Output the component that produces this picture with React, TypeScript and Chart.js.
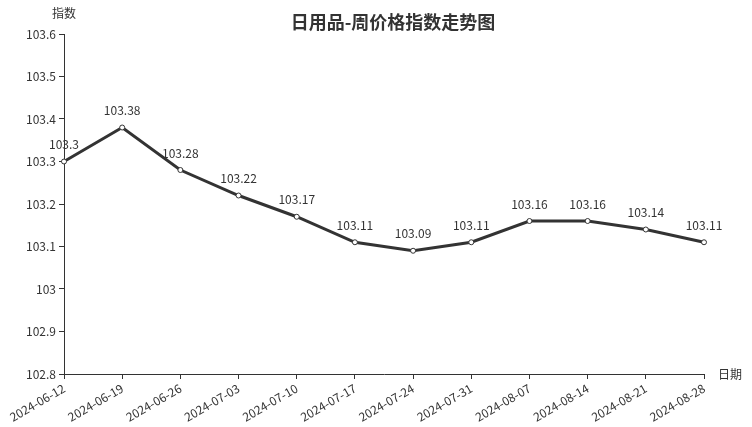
import React, { useEffect, useRef } from "react";
import { Chart, registerables } from "chart.js";

Chart.register(...registerables);

const categories = ["2024-06-12","2024-06-19","2024-06-26","2024-07-03","2024-07-10","2024-07-17","2024-07-24","2024-07-31","2024-08-07","2024-08-14","2024-08-21","2024-08-28"];
const values = [103.3, 103.38, 103.28, 103.22, 103.17, 103.11, 103.09, 103.11, 103.16, 103.16, 103.14, 103.11];
const titleText = "日用品-周价格指数走势图";
const yAxisName = "指数";
const xAxisName = "日期";

const FONT = "'Noto Sans CJK SC', 'Noto Sans', sans-serif";

const overlay = {
  id: "overlay",
  afterDatasetsDraw(chart: any) {
    const ctx = chart.ctx;
    const area = chart.chartArea;
    ctx.save();
    ctx.fillStyle = "#333";
    ctx.font = `bold 18px ${FONT}`;
    ctx.textAlign = "center";
    ctx.textBaseline = "middle";
    ctx.fillText(titleText, 393, 22);
    ctx.font = `12px ${FONT}`;
    ctx.fillText(yAxisName, area.left, 13);
    ctx.textAlign = "left";
    ctx.fillText(xAxisName, area.right + 14, area.bottom);
    const meta = chart.getDatasetMeta(0);
    ctx.textAlign = "center";
    ctx.textBaseline = "bottom";
    meta.data.forEach((pt: any, i: number) => {
      ctx.fillText(String(values[i]), pt.x, pt.y - 11);
    });
    ctx.restore();
  },
};

export default function App() {
  const ref = useRef<HTMLCanvasElement>(null);
  useEffect(() => {
    const chart = new Chart(ref.current!, {
      type: "line",
      data: {
        labels: categories,
        datasets: [
          {
            data: values,
            borderColor: "#333",
            borderWidth: 3,
            pointRadius: 2.5,
            pointBackgroundColor: "#fff",
            pointBorderColor: "#333",
            pointBorderWidth: 1,
            tension: 0,
          },
        ],
      },
      options: {
        animation: false,
        responsive: false,
        layout: { padding: { top: 34, right: 48, left: 0, bottom: 0 } },
        plugins: { legend: { display: false }, title: { display: false }, tooltip: { enabled: false } },
        scales: {
          x: {
            offset: false,
            grid: { drawOnChartArea: false, drawTicks: true, tickLength: 5, color: "#333" },
            border: { display: true, color: "#333", width: 1 },
            ticks: { color: "#333", font: { family: FONT, size: 12 }, minRotation: 30, maxRotation: 30, autoSkip: false, padding: 2 },
            afterFit(scale: any) { scale.height = 53; },
          },
          y: {
            min: 102.8,
            max: 103.6,
            grid: { drawOnChartArea: false, drawTicks: true, tickLength: 5, color: "#333" },
            border: { display: true, color: "#333", width: 1 },
            ticks: {
              stepSize: 0.1,
              color: "#333",
              font: { family: FONT, size: 12 },
              padding: 3,
              callback: (v: any) => String(Number(Number(v).toFixed(1))),
            },
            afterFit(scale: any) { scale.width = 64; },
          },
        },
      },
      plugins: [overlay],
    });
    return () => chart.destroy();
  }, []);
  return (
    <div style={{ position: "absolute", left: 0, top: 0, width: 752, height: 427, background: "#fff" }}>
      <canvas ref={ref} width={752} height={427} style={{ width: 752, height: 427 }} />
    </div>
  );
}
